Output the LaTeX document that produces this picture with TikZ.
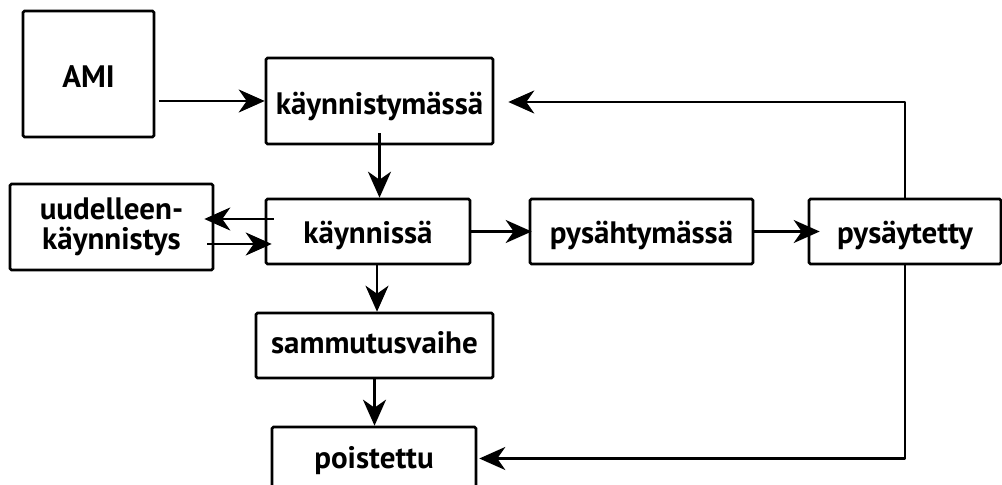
\documentclass[tikz,border=0pt]{standalone}
\usepackage{fontspec}
\setmainfont{PT Sans}
\usetikzlibrary{arrows.meta,calc}

\begin{document}
\begin{tikzpicture}[x=1bp,y=-1bp,
  box/.style={draw, line width=2.6bp, rounded corners=1.5bp, inner sep=0pt,
    align=center, font=\fontsize{31bp}{30bp}\selectfont\bfseries},
  state/.style={box, text height=24bp, text depth=0pt},
  arr/.style={line width=2.6bp, line join=round,
    -{Stealth[length=26bp 0,width=23bp 0,inset=8bp 0]}}]
\useasboundingbox (0,0) rectangle (1002,485);
\clip (0,0) rectangle (1002,485);

% states
\node[state, minimum width=131bp, minimum height=126bp, text height=28bp] (ami) at (88.5,74) {AMI};
\node[state, minimum width=227bp, minimum height=86bp, text height=28bp] (kt) at (379.5,101) {käynnistymässä};
\node[box, minimum width=203bp, minimum height=86bp] (uud) at (111.5,227) {uudelleen-\\käynnistys};
\node[state, minimum width=204bp, minimum height=65bp] (kn) at (368,231.5) {käynnissä};
\node[state, minimum width=223bp, minimum height=65bp] (ps) at (641.5,231.5) {pysähtymässä};
\node[state, minimum width=192bp, minimum height=65bp] (pt) at (905,231.5) {pysäytetty};
\node[state, minimum width=237bp, minimum height=65bp, text height=16bp] (sv) at (374.5,345.5) {sammutusvaihe};
\node[state, minimum width=204bp, minimum height=63bp, text height=20bp] (po) at (374,458.5) {poistettu};

% transitions
\draw[arr] ($(ami.east |- kt.west)+(4bp,0)$) -- (kt.west);
\draw[arr] ($(kt.south)+(0,12bp)$) -- (kt.south |- kn.north);

\coordinate (r1) at ($(kn.west)+(0,12.5bp)$);
\coordinate (r2) at ($(kn.west)+(0,-12.5bp)$);
\draw[arr] ($(r1)+(9bp,0)$) -- ($(r1 -| uud.east)+(-10bp,0)$);
\draw[arr] ($(r2 -| uud.east)+(-7bp,0)$) -- ($(r2)+(7bp,0)$);

\draw[arr] (kn.east) -- ($(ps.west)+(3bp,0)$);
\draw[arr] (ps.east) -- ($(pt.west)+(12bp,0)$);
\draw[arr] (pt.north) |- ($(kt.east)+(14bp,-1bp)$);
\draw[arr] (pt.south) |- ($(po.east)+(2bp,0)$);

\coordinate (d1) at ($(kn.south)+(9bp,0)$);
\draw[arr] (d1) -- (d1 |- sv.north);
\draw[arr] (sv.south) -- (sv.south |- po.north);
\end{tikzpicture}
\end{document}
